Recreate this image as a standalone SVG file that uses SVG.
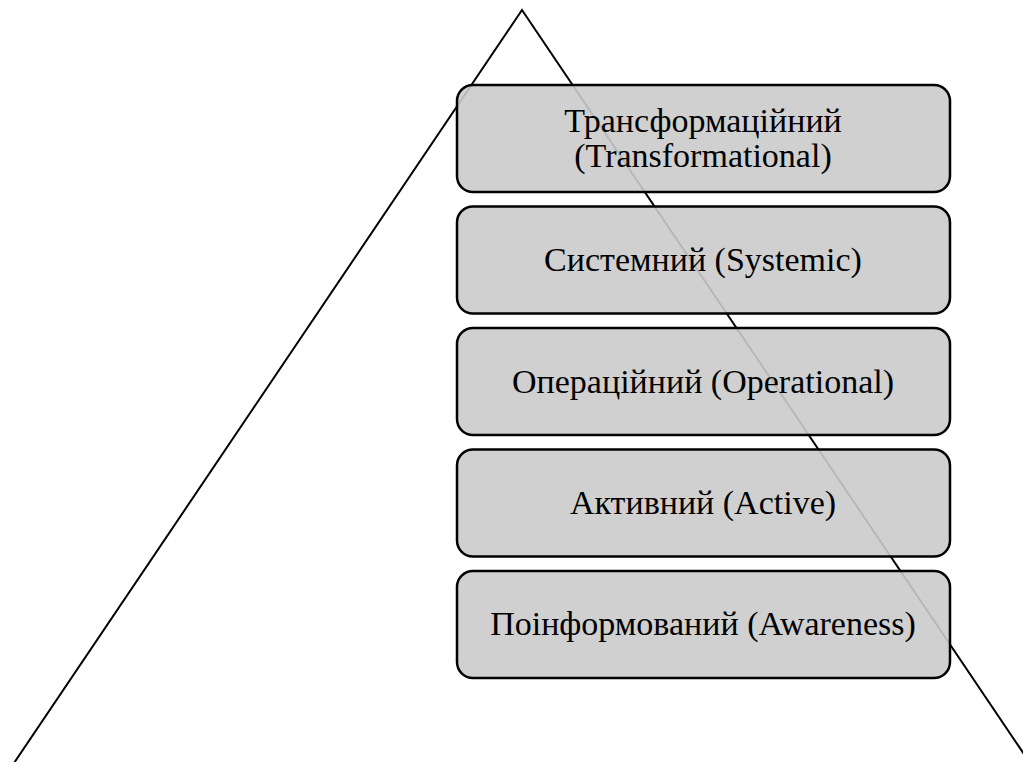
<svg xmlns="http://www.w3.org/2000/svg" width="1023" height="762" viewBox="0 0 1023 762">
<style>
.box{fill:rgb(203,203,203);fill-opacity:0.9;stroke:#000;stroke-width:2.5}
.t{font-family:"Liberation Serif",serif;font-size:34px;fill:#000;text-anchor:middle}
</style>
<rect width="1023" height="762" fill="#fff"/>
<g id="connectors">
<polyline points="12,766 522,10 1032,766" fill="none" stroke="#000" stroke-width="2"/>
</g>
<g id="n1"><rect class="box" x="457" y="85" width="493" height="107" rx="16"/><text class="t" x="703" y="132">Трансформаційний</text><text class="t" x="703" y="167">(Transformational)</text></g>
<g id="n2"><rect class="box" x="457" y="206.5" width="493" height="107" rx="16"/><text class="t" x="703" y="271">Системний (Systemic)</text></g>
<g id="n3"><rect class="box" x="457" y="328" width="493" height="107" rx="16"/><text class="t" x="703" y="392.5">Операційний (Operational)</text></g>
<g id="n4"><rect class="box" x="457" y="449.5" width="493" height="107" rx="16"/><text class="t" x="703" y="514">Активний (Active)</text></g>
<g id="n5"><rect class="box" x="457" y="571" width="493" height="107" rx="16"/><text class="t" x="703" y="635">Поінформований (Awareness)</text></g>
</svg>
